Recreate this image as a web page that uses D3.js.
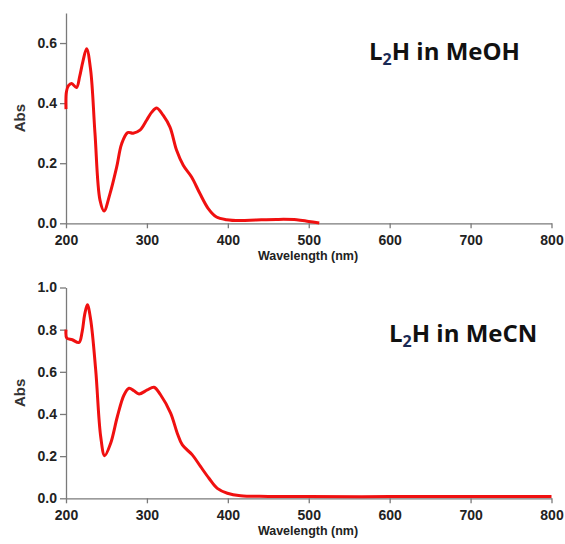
<!DOCTYPE html>
<html>
<head>
<meta charset="utf-8">
<script src="https://cdn.jsdelivr.net/npm/d3@7"></script>
<style>
  body { margin: 0; background: #fff; }
  svg { display: block; }
  .tick text { font-family: "Liberation Sans", Arial, sans-serif; font-weight: bold; font-size: 14px; fill: #222; }
  .axis path, .axis line { stroke: #7a7a7a; stroke-width: 1.3; }
</style>
</head>
<body>
<svg id="canvas"></svg>
<script>
// L2H in MeOH
let meohWl  = [200, 200.5, 203, 207, 213, 217, 221, 225.5, 230.5, 235.8, 242, 247, 254.4, 262.6, 268.8, 276.2, 283, 291.4, 299.6, 306, 312, 320.2, 328.5, 336.7, 344.9, 355.2, 365.5, 375.8, 386, 398.5, 415, 435, 460, 485, 500, 513]
let meohAbs = [0.38, 0.437, 0.458, 0.465, 0.452, 0.49, 0.54, 0.581, 0.509, 0.30, 0.077, 0.041, 0.099, 0.187, 0.265, 0.302, 0.300, 0.31, 0.343, 0.37, 0.384, 0.359, 0.32, 0.243, 0.193, 0.154, 0.099, 0.049, 0.021, 0.012, 0.009, 0.011, 0.013, 0.012, 0.006, 0.001]

// L2H in MeCN
let mecnWl  = [200, 201, 207.8, 216, 220, 223, 226.4, 230.5, 236.7, 242.9, 247.8, 255.2, 263.5, 271.7, 277.9, 284, 290.2, 300.5, 308.7, 317, 329.3, 337.5, 343.8, 356.1, 366.4, 376.7, 387, 399.4, 415.8, 450, 500, 600, 700, 800]
let mecnAbs = [0.80, 0.76, 0.752, 0.739, 0.791, 0.87, 0.918, 0.847, 0.609, 0.292, 0.202, 0.261, 0.388, 0.49, 0.522, 0.51, 0.495, 0.514, 0.527, 0.49, 0.404, 0.309, 0.253, 0.206, 0.15, 0.095, 0.047, 0.024, 0.012, 0.009, 0.008, 0.008, 0.008, 0.008]

let xTicks = [200, 300, 400, 500, 600, 700, 800]
let yTicksTop = [0, 0.2, 0.4, 0.6]
let yTicksBottom = [0, 0.2, 0.4, 0.6, 0.8, 1.0]

const width = 565
const height = 544

let svg = d3.select('#canvas')
    .attr('width', width)
    .attr('height', height)

let drawPanel = (wl, abs, yMax, yTicks, top, bottom, titleX, titleY, solvent) => {
    let xScale = d3.scaleLinear()
        .domain([200, 800])
        .range([66, 551.5])

    let yScale = d3.scaleLinear()
        .domain([0, yMax])
        .range([bottom, top])

    let xAxis = d3.axisBottom(xScale)
        .tickValues(xTicks)
        .tickSize(5)
        .tickSizeOuter(0)
        .tickPadding(7)
        .tickFormat(d3.format('d'))

    let yAxis = d3.axisLeft(yScale)
        .tickValues(yTicks)
        .tickSize(6)
        .tickSizeOuter(0)
        .tickPadding(3)
        .tickFormat(d3.format('.1f'))

    svg.append('g')
        .attr('class', 'axis')
        .attr('transform', 'translate(0,' + bottom + ')')
        .call(xAxis)

    svg.append('g')
        .attr('class', 'axis')
        .attr('transform', 'translate(66,0)')
        .call(yAxis)

    let points = wl.map((w, i) => [w, abs[i]])

    let line = d3.line()
        .x(d => xScale(d[0]))
        .y(d => yScale(d[1]))
        .curve(d3.curveCatmullRom.alpha(0.5))

    svg.append('path')
        .datum(points)
        .attr('d', line)
        .attr('fill', 'none')
        .attr('stroke', '#f01010')
        .attr('stroke-width', 3)
        .attr('stroke-linejoin', 'round')

    svg.append('text')
        .attr('x', 308)
        .attr('y', bottom + 37)
        .attr('text-anchor', 'middle')
        .style('font-family', '"Liberation Sans", Arial, sans-serif')
        .style('font-weight', 'bold')
        .style('font-size', '12.5px')
        .style('fill', '#222')
        .text('Wavelength (nm)')

    svg.append('text')
        .attr('transform', 'translate(25,' + (top + (bottom - top) * 0.5) + ') rotate(-90)')
        .attr('text-anchor', 'middle')
        .style('font-family', '"Liberation Sans", Arial, sans-serif')
        .style('font-weight', 'bold')
        .style('font-size', '15px')
        .style('fill', '#333')
        .text('Abs')

    let title = svg.append('text')
        .attr('x', titleX)
        .attr('y', titleY)
        .style('font-family', '"Open Sans", sans-serif')
        .style('font-weight', '700')
        .style('font-size', '24px')
        .style('fill', '#111')
    title.append('tspan').text('L')
    title.append('tspan').attr('dy', 5).style('font-size', '16px').style('fill', '#1a2a55').text('2')
    title.append('tspan').attr('dy', -5).text('H in ' + solvent)
}

drawPanel(meohWl, meohAbs, 0.7, yTicksTop, 13, 223.3, 369, 60, 'MeOH')
drawPanel(mecnWl, mecnAbs, 1.0, yTicksBottom, 287.5, 498.3, 389, 342, 'MeCN')
</script>
</body>
</html>
